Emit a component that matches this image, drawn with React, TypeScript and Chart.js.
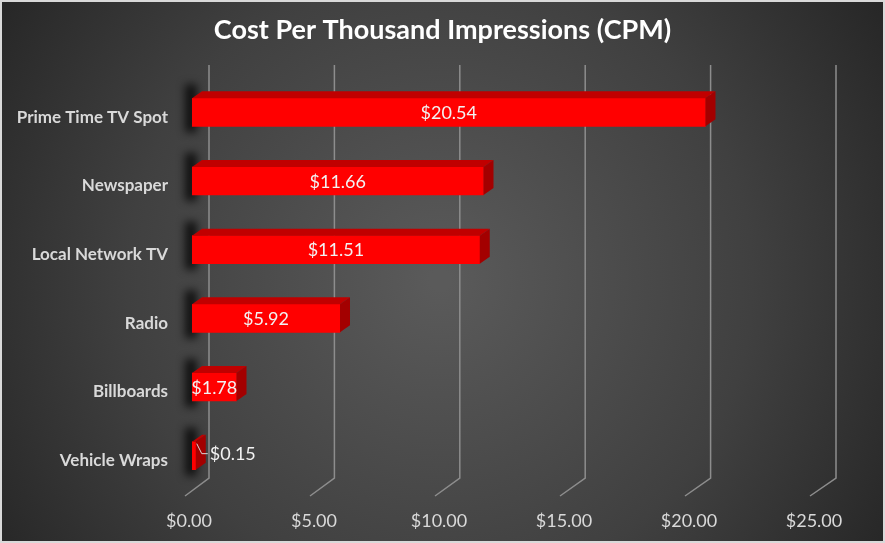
import React, { useEffect, useRef } from "react";
import { Chart, registerables } from "chart.js";

Chart.register(...registerables);

const categories = [
  "Prime Time TV Spot",
  "Newspaper",
  "Local Network TV",
  "Radio",
  "Billboards",
  "Vehicle Wraps",
];
const cpmValues = [20.54, 11.66, 11.51, 5.92, 1.78, 0.15];
const xTickValues = [0, 5, 10, 15, 20, 25];
const chartTitle = "Cost Per Thousand Impressions (CPM)";

const FONT = "Lato, 'Open Sans', sans-serif";
const DEPTH_X = 10;
const DEPTH_Y = -7;

const fmt = (v: number) => "$" + Number(v).toFixed(2);

const backgroundPlugin = {
  id: "bg3d",
  beforeDraw(chart: any) {
    const { ctx, width, height } = chart;
    ctx.save();
    ctx.fillStyle = "#d9d9d9";
    ctx.fillRect(0, 0, width, height);
    const g = ctx.createRadialGradient(440, 280, 10, 440, 280, 560);
    g.addColorStop(0, "#5a5a5a");
    g.addColorStop(0.55, "#404040");
    g.addColorStop(1, "#222222");
    ctx.fillStyle = g;
    ctx.fillRect(2, 2, width - 4, height - 4);
    ctx.restore();
  },
  beforeDatasetsDraw(chart: any) {
    const { ctx } = chart;
    const xs = chart.scales.x;
    const area = chart.chartArea;
    ctx.save();
    ctx.strokeStyle = "#8d8d8d";
    ctx.lineWidth = 1.5;
    xTickValues.forEach((v) => {
      const px = xs.getPixelForValue(v);
      const backX = px + 17 + (v / 25) * 2;
      ctx.beginPath();
      ctx.moveTo(backX, 65);
      ctx.lineTo(backX, area.bottom - 12);
      ctx.lineTo(px - 7, area.bottom + 6);
      ctx.stroke();
    });
    const meta = chart.getDatasetMeta(0);
    meta.data.forEach((el: any) => {
      const top = el.y - el.height / 2;
      const bottom = el.y + el.height / 2;
      ctx.save();
      ctx.filter = "blur(4px)";
      ctx.fillStyle = "rgba(0,0,0,0.75)";
      ctx.fillRect(el.base - 7, top - 14, 12, bottom - top + 20);
      ctx.restore();
    });
    ctx.restore();
  },
  afterDatasetsDraw(chart: any) {
    const { ctx } = chart;
    const meta = chart.getDatasetMeta(0);
    const data = chart.data.datasets[0].data as number[];
    ctx.save();
    meta.data.forEach((el: any, i: number) => {
      const top = el.y - el.height / 2;
      const bottom = el.y + el.height / 2;
      const left = el.base;
      const right = el.x;
      ctx.fillStyle = "#c00000";
      ctx.beginPath();
      ctx.moveTo(left, top);
      ctx.lineTo(right, top);
      ctx.lineTo(right + DEPTH_X, top + DEPTH_Y);
      ctx.lineTo(left + DEPTH_X, top + DEPTH_Y);
      ctx.closePath();
      ctx.fill();
      ctx.fillStyle = "#a30000";
      ctx.beginPath();
      ctx.moveTo(right, top);
      ctx.lineTo(right + DEPTH_X, top + DEPTH_Y);
      ctx.lineTo(right + DEPTH_X, bottom + DEPTH_Y);
      ctx.lineTo(right, bottom);
      ctx.closePath();
      ctx.fill();

      const label = fmt(data[i]);
      ctx.font = `18px ${FONT}`;
      ctx.fillStyle = "#f2f2f2";
      ctx.textBaseline = "middle";
      const w = ctx.measureText(label).width;
      if (w < right - left + 6) {
        ctx.textAlign = "center";
        ctx.fillText(label, (left + right) / 2, el.y + 1);
      } else {
        ctx.strokeStyle = "#d9d9d9";
        ctx.lineWidth = 1;
        ctx.beginPath();
        ctx.moveTo(right + 1, el.y - 12);
        ctx.lineTo(right + 6, el.y - 2);
        ctx.lineTo(right + 12, el.y - 2);
        ctx.stroke();
        ctx.textAlign = "left";
        ctx.fillText(label, right + 14, el.y - 1);
      }
    });
    ctx.restore();
  },
};

export default function App() {
  const canvasRef = useRef<HTMLCanvasElement | null>(null);

  useEffect(() => {
    const canvas = canvasRef.current;
    if (!canvas) return;
    const chart = new Chart(canvas, {
      type: "bar",
      data: {
        labels: categories,
        datasets: [
          {
            data: cpmValues,
            backgroundColor: "#ff0000",
            borderWidth: 0,
            barThickness: 28,
            yAxisID: "y",
          },
        ],
      },
      options: {
        indexAxis: "y",
        responsive: false,
        animation: false,
        devicePixelRatio: 1,
        layout: { padding: 0 },
        plugins: {
          legend: { display: false },
          tooltip: { enabled: false },
          title: {
            display: true,
            text: chartTitle,
            color: "#ffffff",
            font: { family: FONT, size: 27, weight: "bold" },
            padding: { top: 14, bottom: 31.6 },
          },
        },
        scales: {
          x: {
            type: "linear",
            min: 0,
            max: 25,
            grid: { display: false, drawTicks: false },
            border: { display: false },
            ticks: {
              stepSize: 5,
              color: "#d9d9d9",
              font: { family: FONT, size: 18 },
              padding: 20,
              labelOffset: -3,
              callback: (v: any) => fmt(v),
            },
            afterFit: (s: any) => {
              s.height = 53;
            },
          },
          y: {
            position: "left",
            grid: { display: false, drawTicks: false },
            border: { display: false },
            ticks: {
              color: "#d9d9d9",
              font: { family: FONT, size: 17, weight: "bold" },
              padding: 24,
              labelOffset: 5,
            },
            afterFit: (s: any) => {
              s.width = 192;
            },
          },
          yRightSpace: {
            type: "category",
            position: "right",
            grid: { display: false, drawTicks: false },
            border: { display: false },
            ticks: { display: false },
            afterFit: (s: any) => {
              s.width = 68;
            },
          },
        },
      } as any,
      plugins: [backgroundPlugin],
    });
    return () => chart.destroy();
  }, []);

  return (
    <div style={{ position: "fixed", left: 0, top: 0, width: 885, height: 543 }}>
      <canvas ref={canvasRef} width={885} height={543} style={{ display: "block" }} />
    </div>
  );
}
